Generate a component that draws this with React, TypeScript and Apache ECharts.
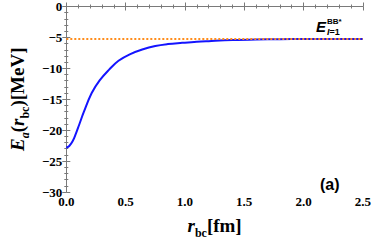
import React, { useEffect, useRef } from "react";
import * as echarts from "echarts";

const rValues = [0, 0.025, 0.053, 0.08, 0.107, 0.147, 0.214, 0.281, 0.361, 0.44, 0.535, 0.64, 0.75, 0.856, 0.977, 1.1, 1.2, 1.4, 1.6, 1.8, 2.0, 2.25, 2.5];
const eValues = [-22.85, -22.55, -21.8, -20.6, -19.2, -17.1, -14.0, -11.95, -10.2, -8.77, -7.73, -6.96, -6.39, -6.08, -5.88, -5.7, -5.6, -5.43, -5.33, -5.28, -5.26, -5.25, -5.25];
const thresholdR = [0, 2.5];
const thresholdE = [-5.25, -5.25];
const xTicks = { min: 0, max: 2.5, interval: 0.5 };
const yTicks = { min: -30, max: 0, interval: 5 };

const serif = "Liberation Serif";
const sans = "Liberation Sans";
const frameColor = "#7a7a7a";

export default function App() {
  const ref = useRef<HTMLDivElement>(null);
  useEffect(() => {
    if (!ref.current) return;
    const chart = echarts.init(ref.current, undefined, { renderer: "svg" });
    const tickLabel = {
      color: "#000",
      fontFamily: serif,
      fontWeight: "bold" as const,
      fontSize: 13,
    };
    const minus = (v: number) => (v < 0 ? "\u2212" + Math.abs(v) : String(v));
    const rich = {
      i: { fontFamily: serif, fontWeight: "bold", fontStyle: "italic", fontSize: 19, color: "#000", lineHeight: 22, verticalAlign: "bottom" },
      si: { fontFamily: serif, fontWeight: "bold", fontStyle: "italic", fontSize: 12, color: "#000", lineHeight: 22, verticalAlign: "bottom", padding: [0, 0, -4, 0] },
      s: { fontFamily: serif, fontWeight: "bold", fontSize: 12, color: "#000", lineHeight: 22, verticalAlign: "bottom", padding: [0, 0, -4, 0] },
      n: { fontFamily: serif, fontWeight: "bold", fontSize: 19, color: "#000", lineHeight: 22, verticalAlign: "bottom" },
    };
    const baseX = {
      type: "value" as const,
      min: xTicks.min,
      max: xTicks.max,
      interval: xTicks.interval,
      axisLine: { show: true, lineStyle: { color: frameColor, width: 1 } },
      axisTick: { show: true, inside: true, length: 4, lineStyle: { color: frameColor } },
      minorTick: { show: true, splitNumber: 5, length: 2, lineStyle: { color: frameColor } },
      splitLine: { show: false },
    };
    const baseY = {
      type: "value" as const,
      min: yTicks.min,
      max: yTicks.max,
      interval: yTicks.interval,
      axisLine: { show: true, lineStyle: { color: frameColor, width: 1 } },
      axisTick: { show: true, inside: true, length: 4, lineStyle: { color: frameColor } },
      minorTick: { show: true, splitNumber: 5, length: 2, lineStyle: { color: frameColor } },
      splitLine: { show: false },
    };
    chart.setOption({
      animation: false,
      grid: { left: 52, right: 11, top: 6, bottom: 44 },
      xAxis: [
        {
          ...baseX,
          position: "bottom",
          axisLabel: { ...tickLabel, margin: 3, formatter: (v: number) => v.toFixed(1) },
          name: "{i|r}{s|bc}{n|[fm]}",
          nameLocation: "middle",
          nameGap: 21,
          nameTextStyle: { rich },
        },
        { ...baseX, position: "top", axisLabel: { show: false } },
      ],
      yAxis: [
        {
          ...baseY,
          position: "left",
          axisLabel: { ...tickLabel, margin: 4, formatter: minus },
          name: "{i|E}{si|a}{n|(}{i|r}{s|bc}{n|)[MeV]}",
          nameLocation: "middle",
          nameRotate: 90,
          nameGap: 31,
          nameTextStyle: { rich },
        },
        { ...baseY, position: "right", axisLabel: { show: false } },
      ],
      series: [
        {
          type: "line",
          data: rValues.map((r, i) => [r, eValues[i]]),
          smooth: 0.4,
          symbol: "none",
          lineStyle: { color: "#1414ff", width: 2 },
          z: 2,
        },
        {
          type: "line",
          data: thresholdR.map((r, i) => [r, thresholdE[i]]),
          symbol: "none",
          lineStyle: { color: "#ff8c1a", width: 2, type: [2, 2] },
          z: 3,
        },
      ],
      graphic: [
        {
          type: "text",
          left: 316,
          top: 19,
          style: { text: "E", fontFamily: sans, fontWeight: "bold", fontStyle: "italic", fontSize: 15, fill: "#000" },
        },
        {
          type: "text",
          left: 327,
          top: 17,
          style: { text: "BB*", fontFamily: sans, fontWeight: "bold", fontSize: 8, fill: "#000" },
        },
        {
          type: "text",
          left: 327,
          top: 27,
          style: {
            text: "{i|I}{n|=1}",
            rich: {
              i: { fontFamily: sans, fontWeight: "bold", fontStyle: "italic", fontSize: 9, fill: "#000" },
              n: { fontFamily: sans, fontWeight: "bold", fontSize: 9, fill: "#000" },
            },
          },
        },
        {
          type: "text",
          left: 320,
          top: 176,
          style: { text: "(a)", fontFamily: sans, fontWeight: "bold", fontSize: 16, fill: "#000" },
        },
      ],
    });
    return () => chart.dispose();
  }, []);
  return <div ref={ref} style={{ width: 374, height: 244, position: "absolute", left: 0, top: 0, background: "#fff" }} />;
}
